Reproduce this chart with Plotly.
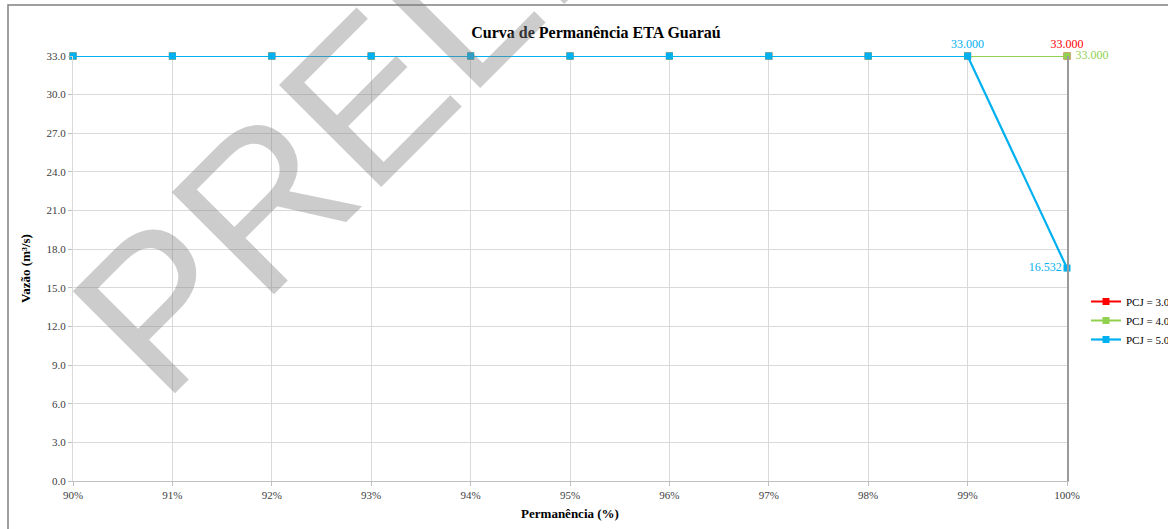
import plotly.graph_objects as go

permanencia = [0.90, 0.91, 0.92, 0.93, 0.94, 0.95, 0.96, 0.97, 0.98, 0.99, 1.00]
pcj_30 = [33.0, 33.0, 33.0, 33.0, 33.0, 33.0, 33.0, 33.0, 33.0, 33.0, 33.0]
pcj_40 = [33.0, 33.0, 33.0, 33.0, 33.0, 33.0, 33.0, 33.0, 33.0, 33.0, 33.0]
pcj_50 = [33.0, 33.0, 33.0, 33.0, 33.0, 33.0, 33.0, 33.0, 33.0, 33.0, 16.532]
series_names = ["PCJ = 3.0", "PCJ = 4.0", "PCJ = 5.0"]
y_ticks = [0, 3, 6, 9, 12, 15, 18, 21, 24, 27, 30, 33]

W, H = 1168, 529
L, R, T, B = 73, 1067, 56, 481

SERIF = "Liberation Serif, Times New Roman, serif"

def lbl(vals, idxs):
    return [f"{v:.3f}" if i in idxs else "" for i, v in enumerate(vals)]

fig = go.Figure()
fig.add_trace(go.Scatter(
    x=permanencia, y=pcj_30, name=series_names[0], mode="lines+markers+text",
    line=dict(color="#ff0000", width=2), marker=dict(symbol="square", size=7, color="#ff0000"),
    text=lbl(pcj_30, [10]), textposition="top center",
    textfont=dict(family=SERIF, size=12, color="#ff0000"), cliponaxis=False))
fig.add_trace(go.Scatter(
    x=permanencia, y=pcj_40, name=series_names[1], mode="lines+markers+text",
    line=dict(color="#92d050", width=2), marker=dict(symbol="square", size=7, color="#92d050"),
    text=[" " + t if t else "" for t in lbl(pcj_40, [10])], textposition="middle right",
    textfont=dict(family=SERIF, size=12, color="#92d050"), cliponaxis=False))
fig.add_trace(go.Scatter(
    x=permanencia, y=pcj_50, name=series_names[2], mode="lines+markers+text",
    line=dict(color="#00b0f0", width=2.2), marker=dict(symbol="square", size=7, color="#00b0f0"),
    text=lbl(pcj_50, [9, 10]),
    textposition=["top center"] * 10 + ["middle left"],
    textfont=dict(family=SERIF, size=12, color="#00b0f0"), cliponaxis=False))

fig.update_layout(
    width=W, height=H,
    margin=dict(l=L, r=W - R, t=T, b=H - B, autoexpand=False),
    paper_bgcolor="white", plot_bgcolor="white",
    font=dict(family=SERIF, size=11, color="#404040"),
    title=dict(text="<b>Curva de Permanência ETA Guaraú</b>", x=596 / W, xref="container",
               xanchor="center", y=1 - 32 / H, yanchor="middle", yref="container",
               font=dict(family=SERIF, size=16, color="#000000")),
    xaxis=dict(range=[0.90, 1.00], tickvals=permanencia, tickformat=".0%", automargin=False,
               showgrid=True, gridcolor="#d9d9d9", gridwidth=1, zeroline=False,
               showline=True, linecolor="#bfbfbf", ticks="outside", ticklen=4, tickcolor="#bfbfbf",
               tickfont=dict(family=SERIF, size=11, color="#404040"),
               title=dict(text="<b>Permanência (%)</b>", standoff=8,
                          font=dict(family=SERIF, size=13, color="#000000"))),
    yaxis=dict(range=[0, 33], tickvals=y_ticks, tickformat=".1f", automargin=False,
               showgrid=True, gridcolor="#d9d9d9", gridwidth=1, zeroline=False,
               showline=True, linecolor="#d9d9d9", ticks="outside", ticklen=4, tickcolor="#bfbfbf",
               tickfont=dict(family=SERIF, size=11, color="#404040"),
               title=dict(text="<b>Vazão (m³/s)</b>", standoff=12,
                          font=dict(family=SERIF, size=13, color="#000000"))),
    yaxis2=dict(overlaying="y", side="right", range=[0, 33], showline=True, linecolor="#9a9a9a",
                linewidth=1.5, showgrid=False, showticklabels=False, zeroline=False, ticks="",
                automargin=False),
    legend=dict(xref="container", yref="container", x=1086 / W, xanchor="left",
                y=1 - 287 / H, yanchor="top",
                font=dict(family=SERIF, size=11, color="#000000"),
                bgcolor="rgba(0,0,0,0)", itemwidth=30, tracegroupgap=2),
    showlegend=True,
)
# invisible trace to activate the right-side axis line
fig.add_trace(go.Scatter(x=[permanencia[0]], y=[None], yaxis="y2", showlegend=False,
                         hoverinfo="skip", mode="markers"))

# outer frame
fig.add_shape(type="rect", xref="paper", yref="paper",
              x0=(8 - L) / (R - L), x1=(W + 20 - L) / (R - L),
              y0=(B - (H + 20)) / (B - T), y1=(B - 5) / (B - T),
              line=dict(color="#808080", width=1.5), fillcolor="rgba(0,0,0,0)", layer="above")

# watermark
fig.add_annotation(text="PRELIMINAR", xref="paper", yref="paper",
                   x=(565 - L) / (R - L), y=(B + 100) / (B - T), xanchor="center", yanchor="middle",
                   textangle=-45, showarrow=False,
                   font=dict(family="Liberation Sans, Arial, sans-serif", size=210,
                             color="rgba(128,128,128,0.4)"))

fig.write_html("out.html", config={"displayModeBar": False},
               post_script="document.body.style.margin='0';document.body.style.overflow='hidden';")
